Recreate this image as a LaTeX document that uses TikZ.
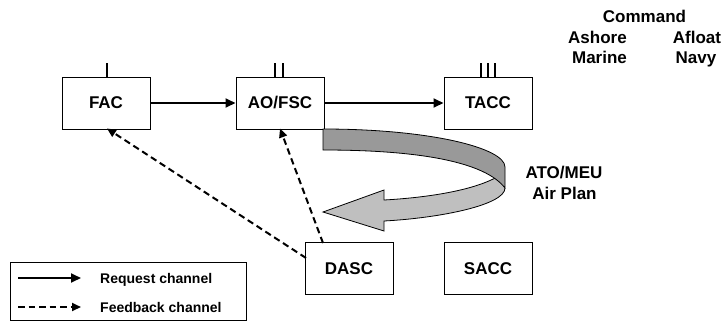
\documentclass[tikz,border=0pt]{standalone}
\usepackage{fontspec}
\setmainfont{Liberation Sans}
\usetikzlibrary{arrows.meta}
\begin{document}
\begin{tikzpicture}[x=1pt,y=-1pt,
  box/.style={draw,line width=1pt,minimum width=88pt,minimum height=52pt,inner sep=0pt,font=\fontsize{17}{20}\selectfont\bfseries},
  lbl/.style={inner sep=0pt,anchor=base,font=\fontsize{17}{20}\selectfont\bfseries},
  leg/.style={inner sep=0pt,anchor=base west,font=\fontsize{14}{16}\selectfont\bfseries},
  req/.style={line width=1.8pt,-{Triangle[length=10pt,width=9pt]}},
  fb/.style={line width=2pt,dash pattern=on 6.5pt off 4pt,-{Triangle[length=9pt,width=8pt]}},
  tick/.style={line width=1.6pt}]
\useasboundingbox (0,0) rectangle (722,322);

% boxes
\node[box] (fac) at (106,103) {FAC};
\node[box] (aofsc) at (280,103) {AO/FSC};
\node[box] (tacc) at (488,103) {TACC};
\node[box] (dasc) at (349,268.5) {DASC};
\node[box] (sacc) at (488,268.5) {SACC};

% roman numerals
\draw[tick] (107,63) -- (107,77);
\draw[tick] (275,63) -- (275,77);
\draw[tick] (283,63) -- (283,77);
\draw[tick] (481,63) -- (481,77);
\draw[tick] (488,63) -- (488,77);
\draw[tick] (495,63) -- (495,77);

% curved ribbon arrow
\fill[fill=black!25] (497,177) .. controls (470,192) and (420,198) .. (384,200)
  -- (384,190) -- (323,212) -- (384,231) -- (384,221)
  .. controls (440,218) and (505,205) .. (505,188) -- cycle;
\draw[line width=0.8pt] (497,177) .. controls (470,192) and (420,198) .. (384,200)
  -- (384,190) -- (323,212) -- (384,231) -- (384,221)
  .. controls (440,218) and (505,205) .. (505,188);
\filldraw[line width=0.8pt, fill=black!40] (323,129) .. controls (430,129) and (505,148) .. (505,167)
  -- (505,188) .. controls (485,162) and (420,150) .. (323,150) -- cycle;

% request arrows
\draw[req] (fac.east) -- (aofsc.west);
\draw[req] (aofsc.east) -- (tacc.west);

% feedback arrows
\coordinate (d1) at (306,258);
\coordinate (d2) at (323,243);
\draw[fb] (d1) -- ([xshift=1pt,yshift=1pt]fac.south);
\draw[fb] (d2) -- ([yshift=1pt]aofsc.south);

% labels
\node[lbl] (cmd) at (644.5,22) {Command};
\node[lbl] (ash) at (597.5,43) {Ashore};
\node[lbl] (afl) at (697,43) {Afloat};
\node[lbl] (mar) at (599.5,63) {Marine};
\node[lbl] (navy) at (696,63) {Navy};
\node[lbl] (ato) at (564,178) {ATO/MEU};
\node[lbl] (airp) at (564.5,199) {Air Plan};

% legend
\node[draw,line width=1pt,minimum width=236pt,minimum height=58pt,inner sep=0pt] (legend) at (128,291) {};
\coordinate (r1) at (18,278);
\coordinate (r2) at (81,278);
\coordinate (f1) at (18,307);
\coordinate (f2) at (81,307);
\draw[req] (r1) -- (r2);
\draw[fb] (f1) -- (f2);
\node[leg] (lreq) at (100,283) {Request channel};
\node[leg] (lfb) at (100,312) {Feedback channel};
\end{tikzpicture}
\end{document}
